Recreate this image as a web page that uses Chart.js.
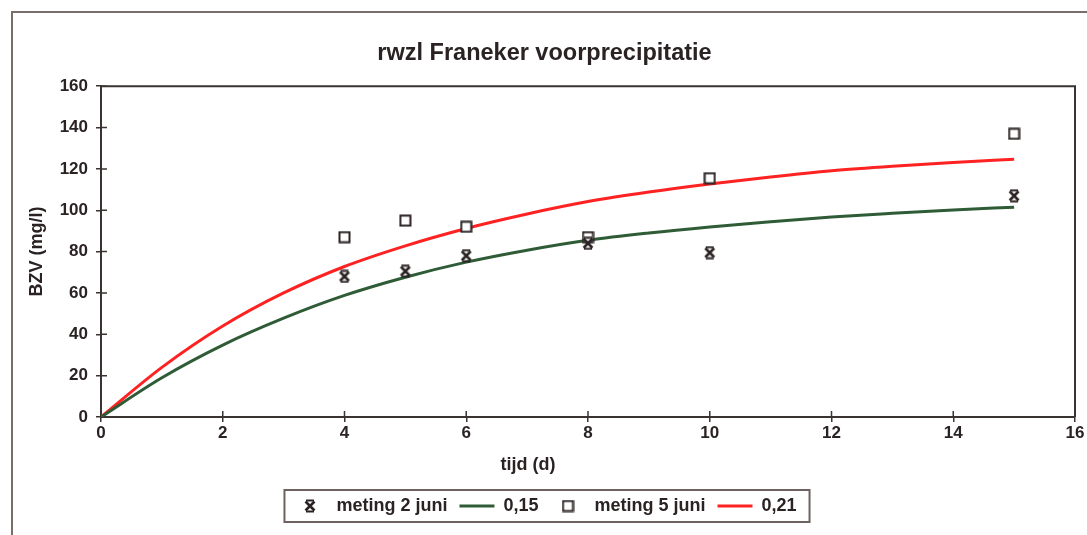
<!DOCTYPE html>
<html>
<head>
<meta charset="utf-8">
<script src="https://cdn.jsdelivr.net/npm/chart.js@4"></script>
<style>
  html, body { margin: 0; padding: 0; background: #fff; }
  #bzvChart { display: block; }
</style>
</head>
<body>
<canvas id="bzvChart" width="1087" height="535"></canvas>
<script>
const tijd = [0, 1, 2, 3, 4, 5, 6, 7, 8, 9, 10, 11, 12, 13, 14, 15];
const kromme015 = [0, 19, 34.8, 47.8, 58.8, 67.6, 74.9, 80.7, 85.5, 89, 91.9, 94.4, 96.7, 98.5, 100.1, 101.5];
const kromme021 = [0, 24, 44, 60, 72.8, 82.8, 91.2, 98.2, 104.2, 108.8, 112.7, 116.1, 119.1, 121.3, 123.1, 124.7];

// metingen
const metingDagen = [4, 5, 6, 8, 10, 15];
const meting2Juni = [68, 70.5, 78, 84, 79.5, 107];
const meting5Juni = [87, 95, 92, 87, 115.5, 137];

const xTicks = [0, 2, 4, 6, 8, 10, 12, 14, 16];
const yTicks = [0, 20, 40, 60, 80, 100, 120, 140, 160];

const donker = '#2b2323';
const asKleur = '#3b3232';
const groen = '#2f5c37';
const rood = '#ff2222';
const lettertype = 'Liberation Sans, Arial, sans-serif';

// kruisje met dwarsstreepjes
function maakSter() {
    const c = document.createElement('canvas');
    c.width = 14;
    c.height = 14;
    const g = c.getContext('2d');
    g.strokeStyle = donker;
    g.lineWidth = 2.6;
    g.beginPath();
    g.moveTo(2.5, 2.5); g.lineTo(11.5, 11.5);
    g.moveTo(11.5, 2.5); g.lineTo(2.5, 11.5);
    g.stroke();
    g.lineWidth = 1.8;
    g.beginPath();
    g.moveTo(3, 1.5); g.lineTo(11, 1.5);
    g.moveTo(3, 12.5); g.lineTo(11, 12.5);
    g.stroke();
    return c;
}

// open vierkantje
function maakVierkant() {
    const c = document.createElement('canvas');
    c.width = 13;
    c.height = 13;
    const g = c.getContext('2d');
    g.fillStyle = '#fff';
    g.fillRect(1, 1, 11, 11);
    g.strokeStyle = donker;
    g.lineWidth = 2;
    g.strokeRect(1.5, 1.5, 10, 10);
    return c;
}

const ster = maakSter();
const vierkant = maakVierkant();

const punten = (xs, ys) => xs.map((x, i) => ({ x: x, y: ys[i] }));

const kader = {
    id: 'kader',
    beforeDraw(chart) {
        const ctx = chart.ctx;
        ctx.save();
        ctx.fillStyle = '#fff';
        ctx.fillRect(0, 0, chart.width, chart.height);
        ctx.strokeStyle = '#7a6e6a';
        ctx.lineWidth = 2;
        ctx.beginPath();
        ctx.moveTo(12, chart.height);
        ctx.lineTo(12, 12);
        ctx.lineTo(chart.width, 12);
        ctx.stroke();
        ctx.restore();
    },
    beforeDatasetsDraw(chart) {
        const ctx = chart.ctx;
        const a = chart.chartArea;
        const xs = chart.scales.x, ys = chart.scales.y;
        ctx.save();
        ctx.strokeStyle = asKleur;
        ctx.lineWidth = 2;
        ctx.beginPath();
        ctx.moveTo(a.left, a.top);
        ctx.lineTo(a.right, a.top);
        ctx.lineTo(a.right, a.bottom);
        ctx.stroke();
        // tickjes ook binnen de grafiek
        ctx.lineWidth = 1.5;
        ctx.beginPath();
        yTicks.forEach(v => {
            const y = ys.getPixelForValue(v);
            ctx.moveTo(a.left, y);
            ctx.lineTo(a.left + 6, y);
        });
        xTicks.forEach(v => {
            const x = xs.getPixelForValue(v);
            ctx.moveTo(x, a.bottom);
            ctx.lineTo(x, a.bottom - 6);
        });
        ctx.stroke();
        ctx.restore();
    },
    afterDraw(chart) {
        const ctx = chart.ctx;
        const a = chart.chartArea;
        ctx.save();
        // astitel x
        ctx.fillStyle = donker;
        ctx.font = 'bold 18px ' + lettertype;
        ctx.textAlign = 'center';
        ctx.textBaseline = 'middle';
        ctx.fillText('tijd (d)', (a.left + a.right) / 2 - 60, a.bottom + 48);
        // rand om de legenda
        const boxes = chart.legend.legendHitBoxes;
        const l = Math.min(...boxes.map(b => b.left));
        const r = Math.max(...boxes.map(b => b.left + b.width));
        const midden = boxes[0].top + boxes[0].height / 2;
        ctx.strokeStyle = '#6e6260';
        ctx.lineWidth = 2;
        ctx.strokeRect(l - 8, midden - 16, r - l + 21, 32);
        ctx.restore();
    }
};

new Chart(document.getElementById('bzvChart'), {
    type: 'line',
    data: {
        datasets: [
            {
                label: 'meting 2 juni',
                data: punten(metingDagen, meting2Juni),
                showLine: false,
                pointStyle: ster,
                pointRadius: 7,
                borderColor: donker,
                backgroundColor: donker,
                order: 1
            },
            {
                label: '0,15',
                data: punten(tijd, kromme015),
                borderColor: groen,
                backgroundColor: groen,
                borderWidth: 3,
                pointRadius: 0,
                pointStyle: 'line',
                cubicInterpolationMode: 'monotone',
                order: 2
            },
            {
                label: 'meting 5 juni',
                data: punten(metingDagen, meting5Juni),
                showLine: false,
                pointStyle: vierkant,
                pointRadius: 6,
                borderWidth: 2,
                borderColor: donker,
                backgroundColor: '#fff',
                order: 1
            },
            {
                label: '0,21',
                data: punten(tijd, kromme021),
                borderColor: rood,
                backgroundColor: rood,
                borderWidth: 3,
                pointRadius: 0,
                pointStyle: 'line',
                cubicInterpolationMode: 'monotone',
                order: 2
            }
        ]
    },
    options: {
        responsive: false,
        animation: false,
        devicePixelRatio: 1,
        layout: {
            padding: { left: 14, right: 12, top: 10, bottom: 10 }
        },
        scales: {
            x: {
                type: 'linear',
                min: 0,
                max: 16,
                afterBuildTicks: s => { s.ticks = xTicks.map(v => ({ value: v })); },
                ticks: {
                    padding: 1,
                    color: donker,
                    font: { family: lettertype, size: 17, weight: 'bold' }
                },
                grid: { drawOnChartArea: false, tickLength: 5, color: asKleur, lineWidth: 1.5 },
                border: { color: asKleur, width: 2 },
                afterFit: s => { s.height = 68; }
            },
            y: {
                min: 0,
                max: 160,
                afterBuildTicks: s => { s.ticks = yTicks.map(v => ({ value: v })); },
                ticks: {
                    padding: 8,
                    color: donker,
                    font: { family: lettertype, size: 17, weight: 'bold' }
                },
                grid: { drawOnChartArea: false, tickLength: 5, color: asKleur, lineWidth: 1.5 },
                border: { color: asKleur, width: 2 },
                title: {
                    display: true,
                    text: 'BZV (mg/l)',
                    color: donker,
                    font: { family: lettertype, size: 18, weight: 'bold' },
                    padding: { top: 12, bottom: 0 }
                },
                afterFit: s => { s.width = 87; }
            }
        },
        plugins: {
            title: {
                display: true,
                text: 'rwzl Franeker voorprecipitatie',
                color: donker,
                font: { family: lettertype, size: 23.5, weight: 'bold' },
                padding: { top: 29, bottom: 19 }
            },
            legend: {
                position: 'bottom',
                labels: {
                    usePointStyle: true,
                    pointStyleWidth: 35,
                    boxHeight: 11,
                    padding: 12,
                    color: donker,
                    font: { family: lettertype, size: 18, weight: 'bold' },
                    sort: (a, b) => a.datasetIndex - b.datasetIndex
                }
            },
            tooltip: { enabled: false }
        }
    },
    plugins: [kader]
});
</script>
</body>
</html>
